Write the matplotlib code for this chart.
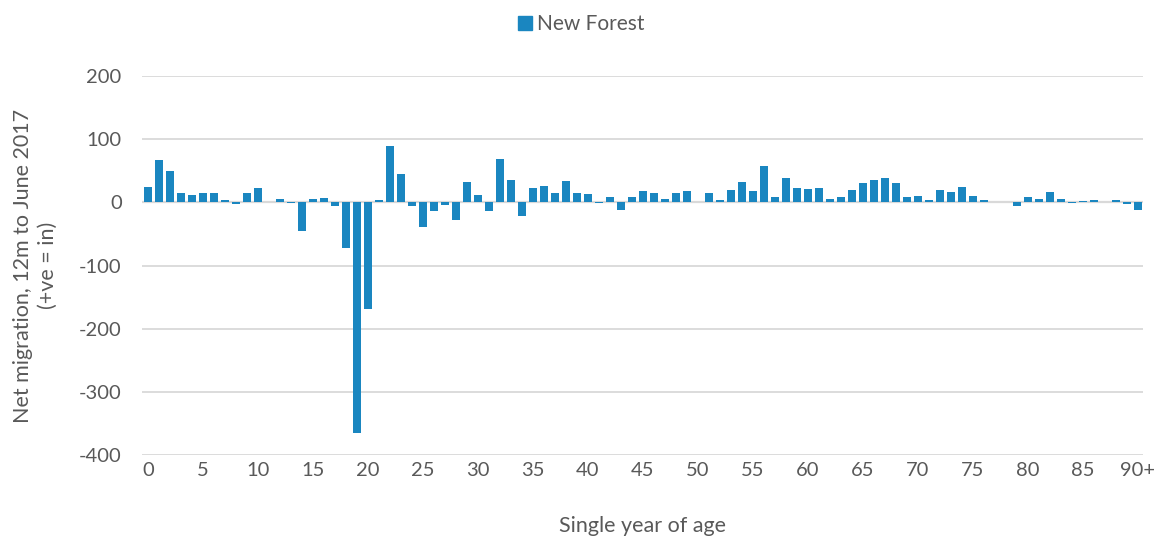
import matplotlib.pyplot as plt
from matplotlib.patches import Patch

plt.rcParams['font.family'] = ['Lato', 'DejaVu Sans']

# single year of age 0..90+
ages = list(range(91))
net_migration = [
    24, 67, 50, 15, 11, 14, 14, 3, -3, 15,
    22, 0, 5, -1, -46, 6, 7, -6, -72, -365,
    -169, 3, 89, 45, -6, -39, -14, -5, -28, 32,
    12, -13, 68, 36, -22, 23, 26, 15, 33, 15,
    13, -1, 8, -12, 9, 18, 15, 5, 15, 18,
    0, 14, 3, 20, 32, 18, 57, 8, 38, 22,
    21, 23, 5, 9, 19, 31, 35, 38, 31, 8,
    10, 3, 19, 17, 24, 10, 4, 1, 0, -6,
    9, 6, 16, 5, -1, 2, 4, 0, 3, -3,
    -12,
]
tick_pos = list(range(0, 91, 5))
tick_labels = [str(t) for t in range(0, 90, 5)] + ['90+']
yticks = [-400, -300, -200, -100, 0, 100, 200]

bar_color = '#1a86c0'
text_color = '#595959'
grid_color = '#d9d9d9'

fig = plt.figure(figsize=(11.62, 5.38), dpi=100)
ax = fig.add_axes([0.1226, 0.1543, 0.8614, 0.7044])

ax.bar(ages, net_migration, width=0.68, color=bar_color, zorder=3)

ax.set_xlim(-0.5, 90.5)
ax.set_ylim(-400, 200)
ax.set_yticks(yticks)
ax.set_yticklabels([str(v) for v in yticks])
ax.set_xticks(tick_pos)
ax.set_xticklabels(tick_labels)

ax.grid(axis='y', color=grid_color, linewidth=1.3, zorder=0)
ax.axhline(0, color=grid_color, linewidth=1.6, zorder=2)
for s in ax.spines.values():
    s.set_visible(False)
ax.tick_params(length=0, labelsize=14.5, labelcolor=text_color)
ax.tick_params(axis='y', pad=15)
ax.tick_params(axis='x', pad=5)

ax.set_xlabel('Single year of age', fontsize=15.5, color=text_color)
ax.xaxis.set_label_coords(0.5, -0.16)
ax.set_ylabel('Net migration, 12m to June 2017\n(+ve = in)', fontsize=15.5,
              color=text_color, linespacing=1.3)
ax.yaxis.set_label_coords(-0.085, 0.5)

fig.legend(handles=[Patch(color=bar_color, label='New Forest')],
           loc='upper center', bbox_to_anchor=(0.5, 1.008), frameon=False,
           fontsize=15, labelcolor=text_color, handlelength=0.7,
           handleheight=0.7, handletextpad=0.2)

fig.savefig('out.png', dpi=100)
